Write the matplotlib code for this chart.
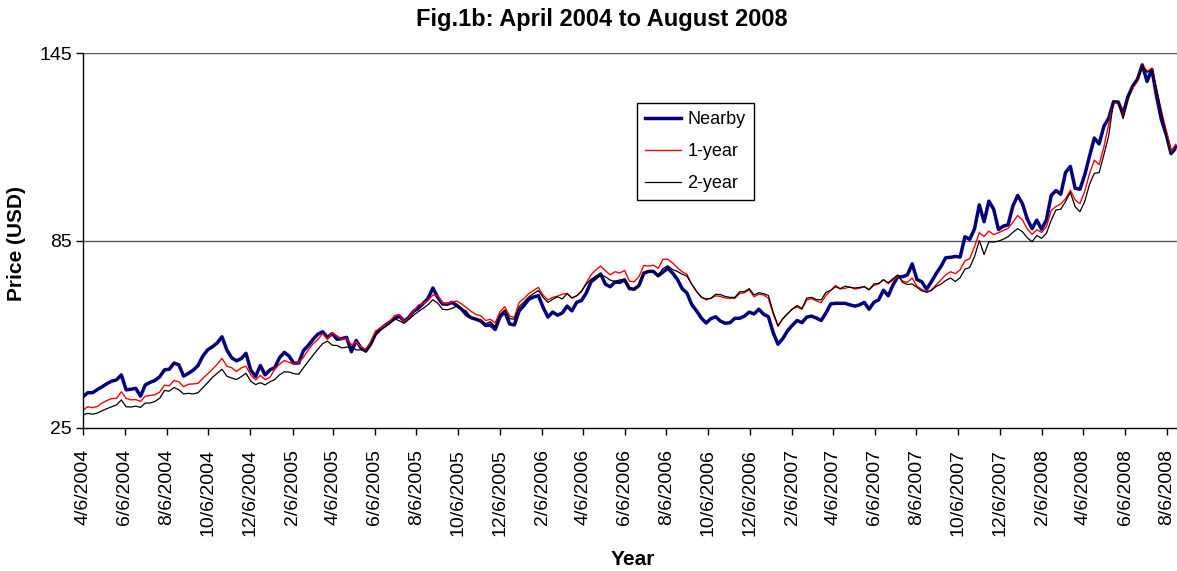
import matplotlib
matplotlib.use("Agg")
import matplotlib.pyplot as plt
import matplotlib.dates as mdates
import pandas as pd
import numpy as np

plt.rcParams['font.family'] = ['Liberation Sans', 'DejaVu Sans']

start_date = '2004-04-06'
n_weeks = 229

nearby = [
    35.0, 36.3, 36.3, 37.3, 38.2, 39.2, 40.0, 40.4, 42.0, 37.2, 37.4, 37.7, 35.2, 38.8, 39.6, 40.2, 41.4, 43.6, 43.8, 45.8,
    45.2, 41.6, 42.5, 43.5, 45.0, 48.0, 50.0, 51.0, 52.2, 54.2, 50.0, 47.5, 46.5, 47.2, 48.9, 43.5, 41.5, 45.0, 42.0, 43.6,
    44.3, 47.5, 49.2, 48.0, 45.7, 45.8, 49.8, 51.4, 53.4, 55.0, 55.8, 54.0, 55.2, 53.4, 53.6, 54.0, 49.4, 53.0, 50.6, 49.6,
    51.8, 55.0, 56.6, 57.8, 58.9, 60.0, 60.8, 59.2, 60.4, 62.4, 63.4, 64.9, 66.5, 69.8, 66.8, 64.7, 64.6, 65.2,
    64.2, 63.0, 61.2, 60.3, 59.8, 59.2, 57.8, 58.0, 56.5, 60.6, 62.2, 58.3, 58.0, 62.5, 64.2, 66.2, 66.9, 67.4, 63.6, 60.5,
    62.1, 61.1, 61.8, 64.0, 62.5, 65.2, 65.8, 68.2, 71.8, 73.0, 74.3, 71.0, 70.2, 71.7, 71.6, 72.4, 69.6, 69.4, 70.6,
    74.5, 75.1, 75.1, 73.7, 74.9, 76.1, 74.6, 72.6, 69.6, 68.2, 64.5, 62.5, 60.2, 58.6, 60.0, 60.6, 59.2, 58.5, 58.7, 60.1,
    60.1, 60.8, 62.1, 61.5, 63.0, 61.4, 60.6, 55.5, 51.8, 53.6, 56.1, 57.9, 59.4, 58.7, 60.5, 60.8, 60.2, 59.4, 61.8,
    64.7, 64.9, 64.9, 64.9, 64.4, 64.0, 64.4, 65.2, 63.0, 65.2, 66.0, 69.1, 67.3, 70.8, 73.4, 73.4, 74.0, 77.5, 72.5, 71.8,
    69.4, 71.8, 74.4, 76.7, 79.5, 79.6, 79.9, 79.7, 86.2, 85.4, 88.7, 96.4, 91.0, 97.6, 95.0,
    88.5, 89.6, 90.0, 96.0, 99.4, 96.8, 91.9, 88.8, 91.5, 88.6, 91.6, 99.4, 101.0, 99.8, 106.8, 108.7, 101.7, 101.4, 106.0,
    112.0, 117.8, 115.9, 121.6, 124.1, 129.4, 129.3, 125.5, 131.0, 134.4, 136.6, 141.2, 135.9, 139.8, 131.0, 123.6, 118.9,
    112.9, 115.0,
]

one_year = [
    30.8, 31.8, 31.5, 31.9, 33.0, 33.8, 34.4, 34.5, 36.6, 34.5, 34.0, 34.1, 33.5, 35.2, 35.4, 35.6, 36.5, 38.7, 38.5, 40.2,
    39.8, 38.2, 39.0, 39.1, 39.3, 40.9, 42.3, 43.8, 45.4, 47.3, 44.8, 44.3, 43.1, 44.2, 44.8, 42.0, 40.4, 41.8, 40.5, 41.2,
    43.8, 45.4, 46.6, 46.0, 45.4, 46.0, 47.6, 50.0, 52.0, 53.3, 55.2, 53.3, 55.5, 54.5, 53.4, 53.7, 51.6, 52.6, 51.0, 50.1,
    52.3, 56.0, 57.0, 57.8, 59.0, 61.0, 61.3, 58.8, 60.2, 62.5, 64.4, 64.8, 65.8, 67.6, 67.3, 65.0, 64.9, 65.4,
    65.6, 64.7, 63.5, 62.3, 61.3, 60.9, 59.4, 59.8, 58.6, 62.2, 63.8, 60.8, 60.4, 65.2, 66.4, 68.0, 69.0, 70.0, 67.5, 66.0,
    66.8, 67.2, 67.8, 68.1, 66.6, 67.3, 68.6, 71.5, 74.0, 75.6, 76.8, 75.3, 74.0, 75.0, 74.6, 75.4, 72.0, 71.8, 73.5,
    77.0, 76.8, 77.1, 76.1, 79.0, 79.0, 77.8, 76.3, 75.0, 74.2, 71.0, 68.6, 67.0, 66.0, 66.5, 67.3, 67.1, 66.6, 66.5, 66.5,
    68.0, 68.3, 69.2, 67.0, 67.8, 67.6, 66.5, 61.5, 57.5, 59.9, 61.5, 63.1, 63.7, 63.0, 66.0, 66.4, 65.7, 65.1, 67.4,
    69.0, 70.6, 69.5, 69.7, 70.2, 69.5, 69.7, 70.3, 69.3, 70.6, 71.1, 72.5, 71.2, 72.3, 73.6, 72.0, 71.6, 73.0, 70.3, 69.4,
    68.4, 69.2, 70.8, 72.4, 74.0, 75.0, 74.4, 75.6, 78.5, 79.2, 83.0, 87.5, 86.3, 88.0, 86.9,
    87.5, 88.2, 88.9, 90.8, 93.0, 91.6, 88.7, 87.0, 88.4, 87.6, 89.4, 94.6, 95.9, 96.7, 98.4, 101.1, 98.0, 96.8, 100.8,
    106.4, 110.7, 109.3, 115.0, 122.2, 129.3, 129.1, 124.6, 130.3, 133.8, 136.0, 141.2, 139.2, 140.0, 133.0, 126.5, 120.0,
    113.6, 115.8,
]

two_year = [
    29.2, 29.7, 29.4, 29.8, 30.5, 31.2, 31.8, 32.4, 34.0, 31.8, 31.7, 32.0, 31.6, 33.0, 33.0, 33.5, 34.5, 37.0, 36.8, 38.0,
    37.2, 35.9, 36.1, 35.9, 36.3, 37.9, 39.5, 41.2, 42.5, 43.8, 41.6, 41.0, 40.5, 41.4, 42.5, 40.0, 38.9, 39.5, 38.8, 39.8,
    40.5, 42.0, 43.0, 42.9, 42.4, 42.2, 44.3, 46.3, 48.3, 50.2, 52.0, 52.8, 51.5, 51.4, 50.6, 50.9, 51.0, 50.0, 50.0, 49.6,
    51.8, 54.8, 56.3, 57.3, 58.5, 60.0, 59.3, 58.5, 59.8, 61.1, 62.3, 63.3, 64.5, 66.0, 65.0, 63.0, 62.8, 63.3,
    64.0, 63.1, 62.4, 60.0, 59.8, 59.6, 58.4, 59.0, 57.4, 61.2, 62.8, 60.0, 59.8, 63.8, 65.3, 66.9, 68.0, 69.0, 66.8, 65.2,
    66.2, 67.0, 66.3, 68.0, 66.6, 67.3, 68.9, 71.0, 72.6, 73.6, 74.0, 73.4, 72.3, 71.9, 72.4, 72.6, 70.0, 69.4, 71.0,
    74.9, 75.3, 75.1, 74.0, 76.0, 76.9, 75.7, 75.1, 74.2, 73.6, 71.0, 68.8, 66.8, 66.3, 66.5, 67.8, 67.7, 67.1, 66.8, 66.8,
    68.6, 68.6, 69.6, 67.6, 68.3, 68.0, 67.4, 62.0, 57.8, 60.0, 61.6, 63.1, 64.2, 63.2, 66.6, 66.8, 66.1, 66.0, 68.4,
    69.1, 70.2, 69.6, 70.4, 70.0, 69.8, 70.0, 70.2, 69.2, 71.1, 71.3, 72.4, 71.5, 72.8, 74.0, 71.6, 70.9, 71.1, 70.0, 68.9,
    68.5, 69.0, 70.3, 71.0, 72.2, 73.0, 71.9, 73.1, 75.8, 76.4, 79.8, 85.0, 80.5, 84.6, 84.5,
    84.8, 85.4, 86.2, 87.6, 88.8, 87.8, 85.9, 84.6, 86.6, 85.7, 87.3, 91.5, 94.8, 95.0, 97.5, 100.4, 95.8, 94.2, 97.5,
    103.0, 106.5, 106.7, 112.5, 118.5, 129.5, 129.2, 124.0, 130.3, 134.2, 136.4, 141.0, 138.8, 139.6, 133.5, 125.8, 119.0,
    112.4, 114.0,
]

tick_labels = ['4/6/2004', '6/6/2004', '8/6/2004', '10/6/2004', '12/6/2004',
               '2/6/2005', '4/6/2005', '6/6/2005', '8/6/2005', '10/6/2005', '12/6/2005',
               '2/6/2006', '4/6/2006', '6/6/2006', '8/6/2006', '10/6/2006', '12/6/2006',
               '2/6/2007', '4/6/2007', '6/6/2007', '8/6/2007', '10/6/2007', '12/6/2007',
               '2/6/2008', '4/6/2008', '6/6/2008', '8/6/2008']
y_ticks = [25, 85, 145]

dates = pd.date_range(start_date, periods=n_weeks, freq='7D')
tick_dates = pd.to_datetime(tick_labels, format='%m/%d/%Y')

fig = plt.figure(figsize=(11.77, 5.71), dpi=100)
ax = fig.add_axes([83 / 1177, 1 - 428 / 571, (1176.5 - 83) / 1177, (428 - 53) / 571])

ax.plot(dates, nearby, color='#000080', lw=2.5, label='Nearby', solid_joinstyle='round')
ax.plot(dates, one_year, color='#ff0000', lw=1.0, label='1-year')
ax.plot(dates, two_year, color='#000000', lw=0.9, label='2-year')

ax.set_xlim(dates[0], dates[0] + pd.Timedelta(days=1597))
ax.set_ylim(25, 145)
ax.set_yticks(y_ticks)
ax.set_yticklabels([str(v) for v in y_ticks], fontsize=14)
for v in y_ticks[1:]:
    ax.axhline(v, color='#555555', lw=1.0, zorder=0)

ax.set_xticks(mdates.date2num(tick_dates))
ax.set_xticklabels(tick_labels, rotation=90, fontsize=14, va='top', ha='center')
ax.tick_params(axis='both', direction='out', length=5, width=1, color='black')
ax.tick_params(axis='x', pad=10)
ax.tick_params(axis='y', pad=3)

for s in ['top', 'right']:
    ax.spines[s].set_visible(False)
for s in ['left', 'bottom']:
    ax.spines[s].set_color('black')
    ax.spines[s].set_linewidth(1.0)

ax.set_xlabel('Year', fontsize=15, fontweight='bold')
ax.xaxis.set_label_coords(0.503, -0.325)
ax.set_ylabel('Price (USD)', fontsize=15, fontweight='bold')
ax.yaxis.set_label_coords(-0.052, 0.493)

fig.text(0.511, 0.965, 'Fig.1b: April 2004 to August 2008', fontsize=17, fontweight='bold',
         ha='center', va='center')

leg = ax.legend(loc='upper left', bbox_to_anchor=(0.5064, 0.8667), fontsize=13,
                frameon=True, fancybox=False, edgecolor='black', framealpha=1,
                handlelength=2.0, labelspacing=0.83, borderpad=0.45, handletextpad=0.35,
                borderaxespad=0.0)
leg.get_frame().set_linewidth(1.0)

fig.savefig('out.png', dpi=100)
